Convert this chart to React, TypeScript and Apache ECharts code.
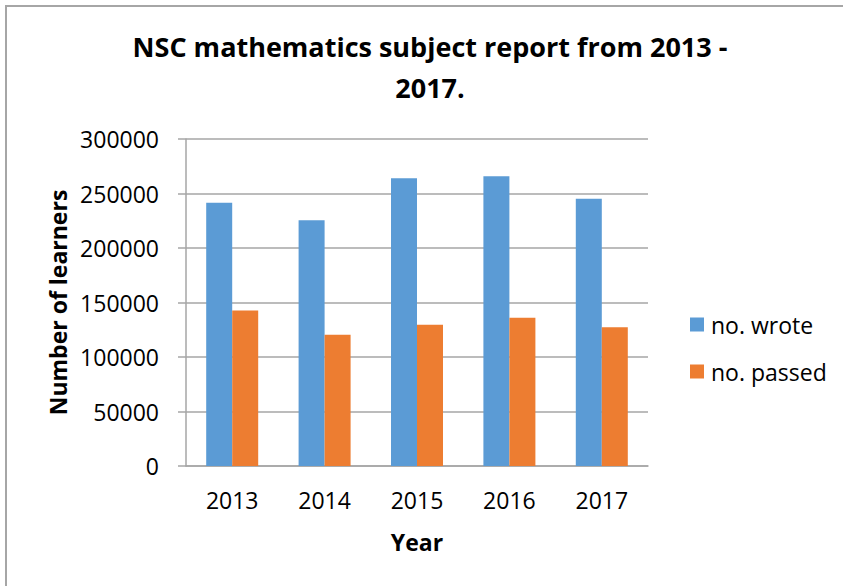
import React, { useEffect, useRef } from "react";
import * as echarts from "echarts";

const years = ["2013", "2014", "2015", "2016", "2017"];
const wrote = [241509, 225458, 263903, 265810, 245103];
const passed = [142666, 120523, 129481, 135958, 127197];
const seriesNames = ["no. wrote", "no. passed"];
const titleText = "NSC mathematics subject report from 2013 -\n2017.";

const FONT = "'Open Sans', sans-serif";

export default function App() {
  const ref = useRef<HTMLDivElement>(null);
  useEffect(() => {
    if (!ref.current) return;
    const chart = echarts.init(ref.current, null, { renderer: "svg" });
    chart.setOption({
      animation: false,
      backgroundColor: "#ffffff",
      title: {
        text: titleText,
        left: 430,
        top: 26,
        padding: 0,
        textAlign: "center",
        textStyle: {
          fontFamily: FONT,
          fontWeight: "bold",
          fontSize: 27,
          lineHeight: 41,
          color: "#000000",
        },
      },
      graphic: [
        {
          type: "polyline",
          shape: { points: [[6, 586], [6, 6], [843, 6]] },
          style: { stroke: "#a6a6a6", lineWidth: 2, fill: "none" },
          silent: true,
        },
      ],
      legend: {
        orient: "vertical",
        left: 690,
        top: 313,
        padding: 0,
        itemWidth: 14,
        itemHeight: 14,
        itemGap: 24,
        icon: "rect",
        textStyle: { fontFamily: FONT, fontSize: 23, color: "#000000", padding: [0, 0, 0, 2] },
        data: seriesNames,
      },
      grid: { left: 186, right: 195, top: 139, bottom: 120 },
      xAxis: {
        type: "category",
        data: years,
        name: "Year",
        nameLocation: "middle",
        nameGap: 64,
        nameTextStyle: { fontFamily: FONT, fontWeight: "bold", fontSize: 23, color: "#000000" },
        axisLine: { show: true, lineStyle: { color: "#a6a6a6", width: 1.5 } },
        axisTick: { show: false },
        axisLabel: { fontFamily: FONT, fontSize: 23, color: "#000000", margin: 22 },
      },
      yAxis: {
        type: "value",
        min: 0,
        max: 300000,
        interval: 50000,
        name: "Number of learners",
        nameLocation: "middle",
        nameGap: 113,
        nameTextStyle: { fontFamily: FONT, fontWeight: "bold", fontSize: 23, color: "#000000" },
        axisLine: { show: true, lineStyle: { color: "#a6a6a6", width: 1.5 } },
        axisTick: { show: true, length: 8, lineStyle: { color: "#a6a6a6", width: 1.5 } },
        axisLabel: {
          fontFamily: FONT,
          fontSize: 23,
          color: "#000000",
          margin: 27,
          formatter: (v: number) => String(v),
        },
        splitLine: { show: true, lineStyle: { color: "#a6a6a6", width: 1.5 } },
      },
      series: [
        {
          name: seriesNames[0],
          type: "bar",
          data: wrote,
          barWidth: 26,
          barGap: "0%",
          itemStyle: { color: "#5b9bd5" },
        },
        {
          name: seriesNames[1],
          type: "bar",
          data: passed,
          barWidth: 26,
          barGap: "0%",
          itemStyle: { color: "#ed7d31" },
        },
      ],
    });
    return () => chart.dispose();
  }, []);
  return (
    <div
      ref={ref}
      style={{ position: "fixed", left: 0, top: 0, width: 843, height: 586 }}
    />
  );
}
